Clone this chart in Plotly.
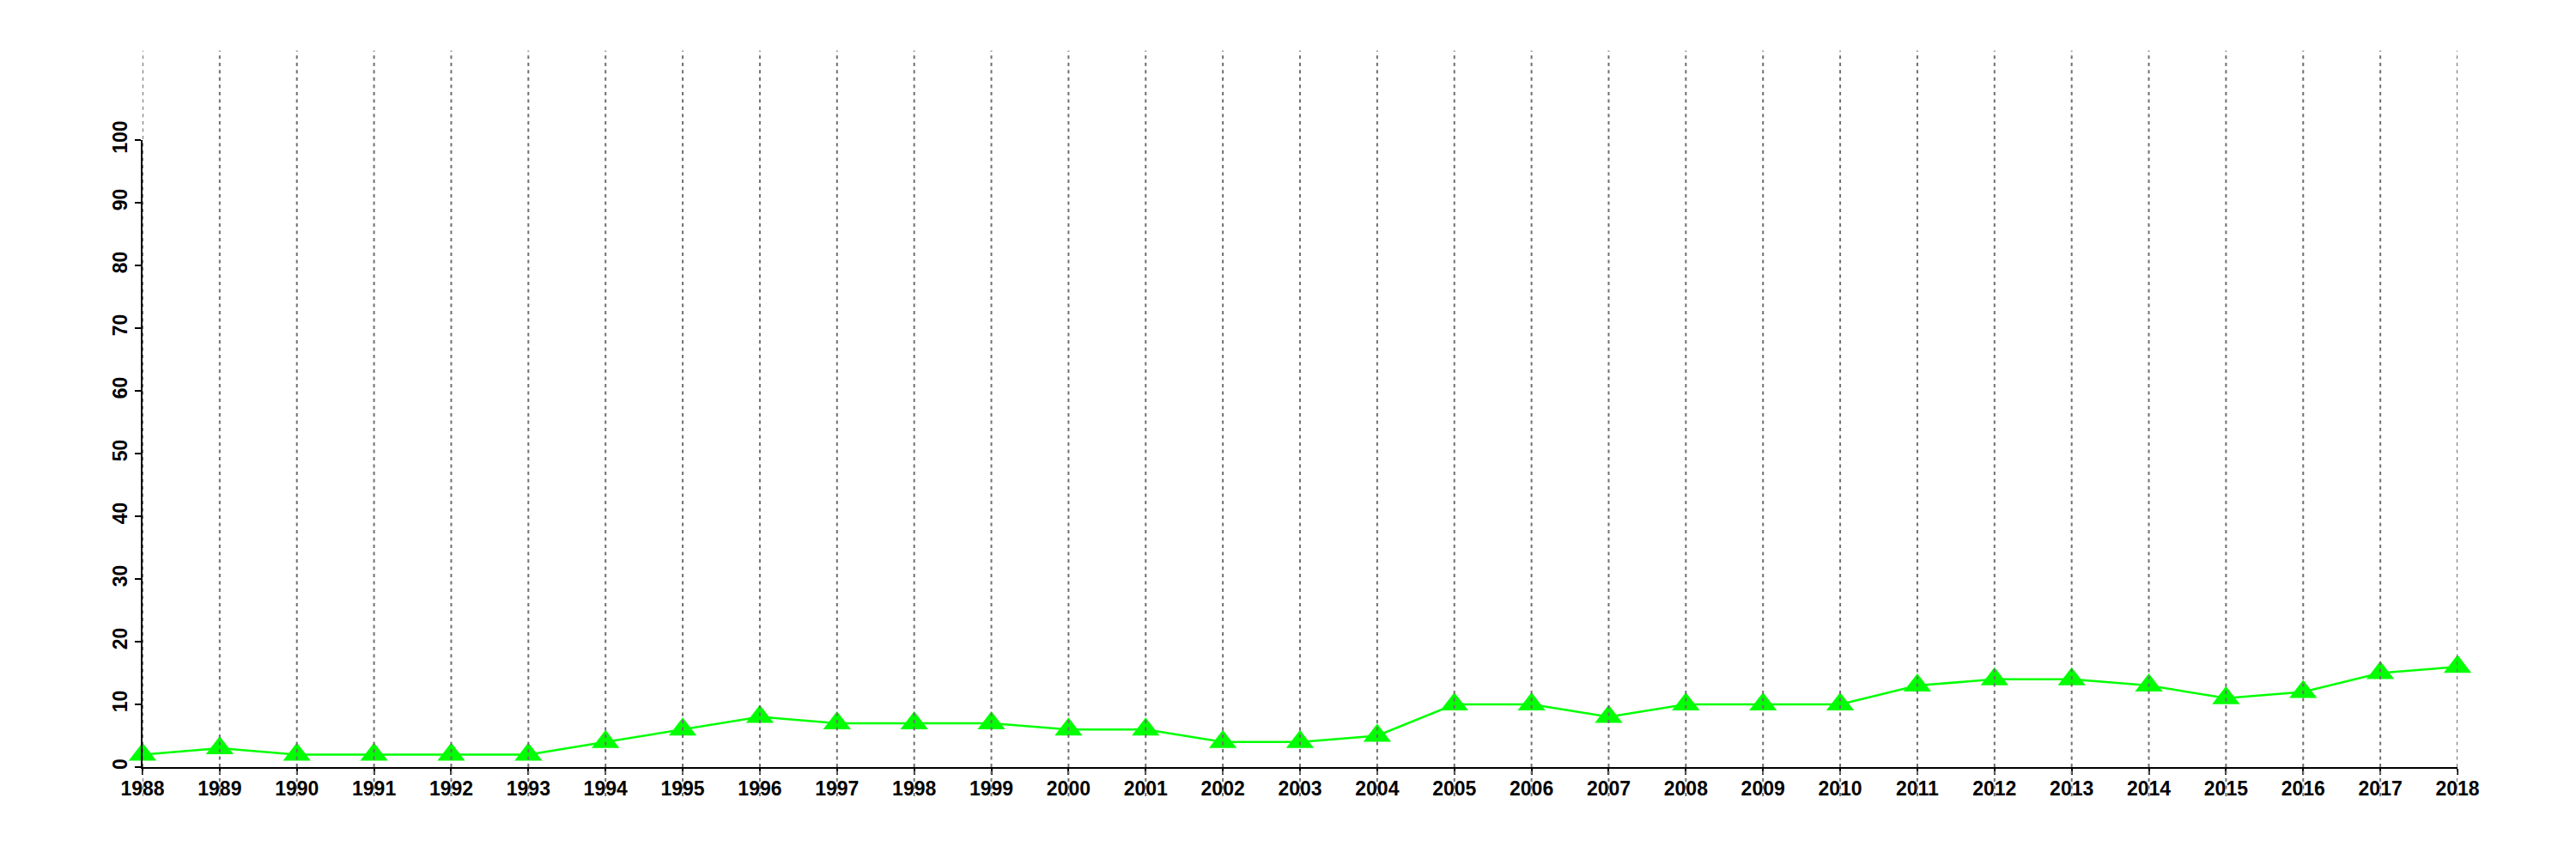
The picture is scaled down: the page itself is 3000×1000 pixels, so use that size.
import plotly.graph_objects as go

years = list(range(1988, 2019))
values = [2, 3, 2, 2, 2, 2, 4, 6, 8, 7, 7, 7, 6, 6, 4, 4, 5, 10, 10, 8, 10, 10, 10, 13, 14, 14, 13, 11, 12, 15, 16]
y_ticks = list(range(0, 101, 10))

W, H = 3000, 1000
OFF = 8  # default page body margin
left, right, top, bottom = 166 - OFF, 138 + OFF, 163 - OFF, 107 + OFF
plot_h = H - top - bottom
plot_bottom_px = 893

fig = go.Figure()
fig.add_trace(go.Scatter(
    x=years, y=values, mode="lines+markers",
    line=dict(color="#00FF00", width=2.5),
    marker=dict(symbol="triangle-up", size=28, color="#00FF00", line=dict(width=0)),
    cliponaxis=False, showlegend=False,
))

grid_top = (plot_bottom_px - 59) / plot_h
grid_bot = -(927 - plot_bottom_px) / plot_h
for yr in years:
    fig.add_shape(type="line", xref="x", yref="paper", x0=yr, x1=yr,
                  y0=grid_bot, y1=grid_top, layer="above",
                  line=dict(color="#707070", width=2, dash="4px,4.5px"))

font = dict(family="Liberation Sans, Arial, sans-serif", size=23, color="black")
fig.update_layout(
    width=W, height=H,
    margin=dict(l=left, r=right, t=top, b=bottom, pad=0),
    plot_bgcolor="white", paper_bgcolor="white",
    xaxis=dict(range=[years[0], years[-1]], tickvals=years,
               ticktext=[f"<b>{y}</b>" for y in years],
               showgrid=False, zeroline=False, showline=True, linecolor="black", linewidth=2,
               ticks="outside", ticklen=7, tickwidth=2, tickcolor="black",
               tickfont=font, tickangle=0, ticklabelstandoff=-4),
    yaxis=dict(range=[0, 100], tickvals=y_ticks,
               ticktext=[f"<b>{v}</b>" for v in y_ticks],
               showgrid=False, zeroline=False, showline=True, linecolor="black", linewidth=2,
               ticks="outside", ticklen=7, tickwidth=2, tickcolor="black",
               tickfont=font, tickangle=-90),
)
fig.write_html("out.html")
